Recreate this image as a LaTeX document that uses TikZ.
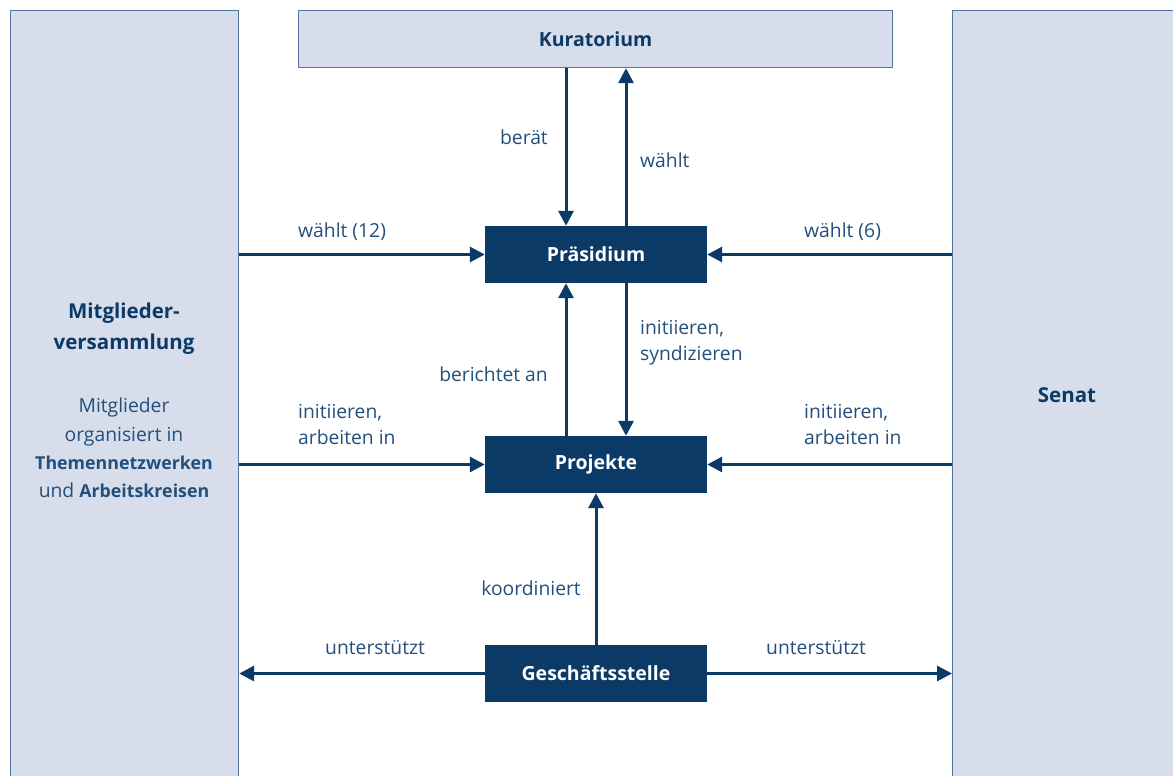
\documentclass[tikz,border=0pt]{standalone}
\usepackage{fontspec}
\setmainfont{Open Sans}
\usetikzlibrary{arrows.meta}
\definecolor{dblue}{HTML}{0B3A66}
\definecolor{tblue}{HTML}{234F7D}
\definecolor{pfill}{HTML}{D7DDEA}
\definecolor{pline}{HTML}{50769E}
\tikzset{
  panel/.style={draw=pline, line width=1.2pt, fill=pfill, inner sep=0pt},
  darkbox/.style={fill=dblue, text=white, minimum width=222pt, minimum height=57pt, inner sep=0pt, font=\fontsize{19.5}{23}\selectfont\bfseries},
  arr/.style={draw=dblue, line width=3pt, -{Triangle[length=15pt,width=15pt]}},
  lbl/.style={text=tblue, font=\fontsize{19.3}{26}\selectfont, inner sep=0pt, align=left},
}
\newcommand{\bsm}[1]{{\fontsize{17.8}{28.3}\selectfont\bfseries #1}}
\begin{document}
\begin{tikzpicture}[x=1pt,y=-1pt]
\useasboundingbox (0,0) rectangle (1173,776);
\fill[white] (0,0) rectangle (1173,776);
% panels
\node[panel, minimum width=228pt, minimum height=790pt, anchor=north west] (mv) at (10,10) {};
\node[panel, minimum width=240pt, minimum height=790pt, anchor=north west] (sen) at (952,10) {};
\node[panel, minimum width=594pt, minimum height=57pt, anchor=north west, text=dblue, font=\fontsize{19.5}{23}\selectfont\bfseries] (kur) at (298,10) {Kuratorium};
% panel texts
\node[text=dblue, font=\fontsize{20.5}{31}\selectfont\bfseries, align=center, inner sep=0pt] (mvt) at (124,329) {Mitglieder-\\versammlung};
\node[text=tblue, font=\fontsize{19.3}{28.3}\selectfont, align=center, inner sep=0pt] (mvs) at (124,448) {Mitglieder\\organisiert in\\\bsm{Themennetzwerken}\\und \bsm{Arbeitskreisen}};
\node[text=dblue, font=\fontsize{20.5}{25}\selectfont\bfseries, inner sep=0pt] (sent) at (1067,395) {Senat};
% dark boxes
\node[darkbox] (pras) at (596,254.5) {Präsidium};
\node[darkbox] (proj) at (596,464.5) {Projekte};
\node[darkbox] (gs) at (596,673.5) {Geschäftsstelle};
% coordinates
\coordinate (xa) at (566,0);
\coordinate (xb) at (626,0);
% vertical arrows
\draw[arr] (kur.south -| xa) -- (pras.north -| xa);
\draw[arr] (pras.north -| xb) -- (kur.south -| xb);
\draw[arr] (proj.north -| xa) -- (pras.south -| xa);
\draw[arr] (pras.south -| xb) -- (proj.north -| xb);
\draw[arr] (gs.north) -- (proj.south);
% horizontal arrows
\draw[arr] (mv.east |- pras.west) -- (pras.west);
\draw[arr] (sen.west |- pras.east) -- (pras.east);
\draw[arr] (mv.east |- proj.west) -- (proj.west);
\draw[arr] (sen.west |- proj.east) -- (proj.east);
\draw[arr] (gs.west) -- (mv.east |- gs.west);
\draw[arr] (gs.east) -- (sen.west |- gs.east);
% labels
\node[lbl, anchor=east] (l1) at (548,137) {berät};
\node[lbl, anchor=west] (l2) at (640,160) {wählt};
\node[lbl, anchor=west] (l3) at (298,232) {wählt (12)};
\node[lbl, anchor=west] (l4) at (804,232) {wählt (6)};
\node[lbl, anchor=west] (l5) at (640,343) {initiieren,\\syndizieren};
\node[lbl, anchor=east] (l6) at (548,374) {berichtet an};
\node[lbl, anchor=west] (l7) at (298,425) {initiieren,\\arbeiten in};
\node[lbl, anchor=west] (l8) at (804,425) {initiieren,\\arbeiten in};
\node[lbl, anchor=east] (l9) at (581,588) {koordiniert};
\node[lbl, anchor=west] (l10) at (325,648) {unterstützt};
\node[lbl, anchor=west] (l11) at (766,648) {unterstützt};
\end{tikzpicture}
\end{document}
